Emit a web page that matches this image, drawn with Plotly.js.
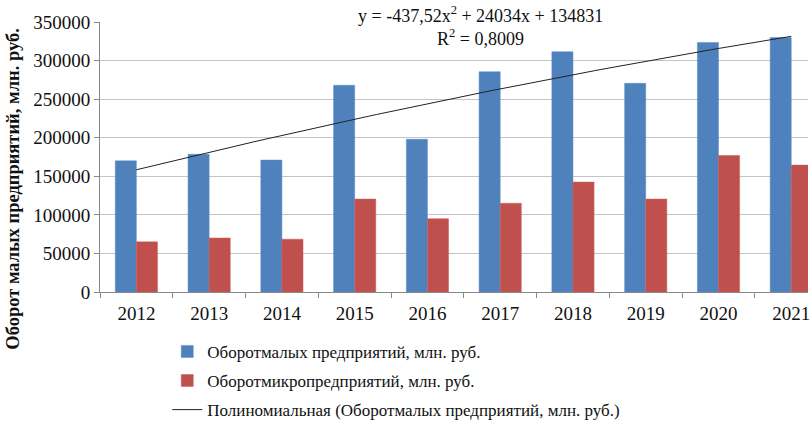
<!DOCTYPE html>
<html>
<head>
<meta charset="utf-8">
<script src="https://cdn.plot.ly/plotly-3.0.1.min.js"></script>
<style>html,body{margin:0;padding:0;background:#fff;}#chart{width:812px;height:427px;}</style>
</head>
<body>
<div id="chart"></div>
<script>
// Data
const years = ["2012","2013","2014","2015","2016","2017","2018","2019","2020","2021"];
const smallTurnover = [170000, 178500, 171000, 268000, 198000, 285500, 311500, 270500, 323500, 330000];
const microTurnover = [65000, 70000, 68500, 120500, 95000, 115000, 142500, 120500, 177000, 164500];
// Trend line coefficients shown on the chart: y = a*x^2 + b*x + c, x = 1..10
const trendCoef = [-437.52, 24034, 134831];
const seriesNames = [
  "Оборотмалых предприятий, млн. руб.",
  "Оборотмикропредприятий, млн. руб.",
  "Полиномиальная (Оборотмалых предприятий, млн. руб.)"
];
const yTicks = [0, 50000, 100000, 150000, 200000, 250000, 300000, 350000];

const idx = years.map((_, i) => i);
const trendX = [], trendY = [];
for (let k = 0; k <= 90; k++) {
  const t = k / 10;            // category index
  const x = t + 1;             // Excel x
  trendX.push(t);
  trendY.push(trendCoef[0]*x*x + trendCoef[1]*x + trendCoef[2]);
}

const serif = "Liberation Serif, Times New Roman, serif";
const traces = [
  {type:"bar", x: idx, y: smallTurnover, name: seriesNames[0], legendgroup:"a",
   marker:{color:"#4F81BD", line:{color:"#5b8cc8", width:0.5}}},
  {type:"bar", x: idx, y: microTurnover, name: seriesNames[1], legendgroup:"b",
   marker:{color:"#C0504D", line:{color:"#cc5e5b", width:0.5}}},
  {type:"scatter", mode:"lines", x: trendX, y: trendY, name: seriesNames[2], legendgroup:"c",
   xaxis:"x2", line:{color:"#222", width:1}}
];

const range = [-0.5, 9.23];
const layout = {
  width: 812, height: 427,
  margin: {l: 100, r: 4, t: 22, b: 135, autoexpand: false},
  paper_bgcolor: "#fff", plot_bgcolor: "#fff",
  font: {family: serif, size: 18, color: "#111"},
  barmode: "group", bargap: 0.42, bargroupgap: 0,
  showlegend: true,
  legend: {orientation: "v", x: 0.095, xanchor: "left", y: -0.155, yanchor: "top",
           font: {family: serif, size: 17, color: "#111"}, tracegroupgap: 4,
           bgcolor: "rgba(0,0,0,0)"},
  xaxis: {type: "linear", range: range, tickvals: idx, ticktext: years,
          ticks: "", showgrid: false, zeroline: false, showline: true, ticklabelstandoff: 4,
          linecolor: "#888", linewidth: 1, tickfont: {family: serif, size: 19, color: "#111"},
          fixedrange: true},
  xaxis2: {type: "linear", overlaying: "x", range: range, side: "bottom",
           tickvals: [-0.5,0.5,1.5,2.5,3.5,4.5,5.5,6.5,7.5,8.5], ticks: "outside",
           ticklen: 5, tickcolor: "#888", showticklabels: false, showgrid: false,
           zeroline: false, showline: false},
  yaxis: {range: [0, 350000], tickvals: yTicks, ticktext: yTicks.map(String),
          showgrid: true, gridcolor: "#c4c4c4", gridwidth: 1, zeroline: false,
          showline: true, linecolor: "#888", ticks: "outside", ticklen: 5, tickcolor: "#888",
          tickfont: {family: serif, size: 19, color: "#111"}},
  annotations: [
    {xref: "paper", yref: "paper", x: -0.122, y: 0.381, xanchor: "center", yanchor: "middle",
     textangle: -90, showarrow: false,
     text: "<b>Оборот малых предприятий, млн. руб.</b>",
     font: {family: serif, size: 18.5, color: "#111"}},
    {xref: "paper", yref: "paper", x: 0.538, y: 1.0, xanchor: "center", yanchor: "middle",
     yshift: 8, showarrow: false, text: "y = -437,52x<sup>2</sup> + 24034x + 134831",
     font: {family: serif, size: 18, color: "#111"}},
    {xref: "paper", yref: "paper", x: 0.537, y: 1.0, xanchor: "center", yanchor: "middle",
     yshift: -15, showarrow: false, text: "R<sup>2</sup> = 0,8009",
     font: {family: serif, size: 18, color: "#111"}}
  ]
};

Plotly.newPlot("chart", traces, layout, {displayModeBar: false, staticPlot: true});
</script>
</body>
</html>
